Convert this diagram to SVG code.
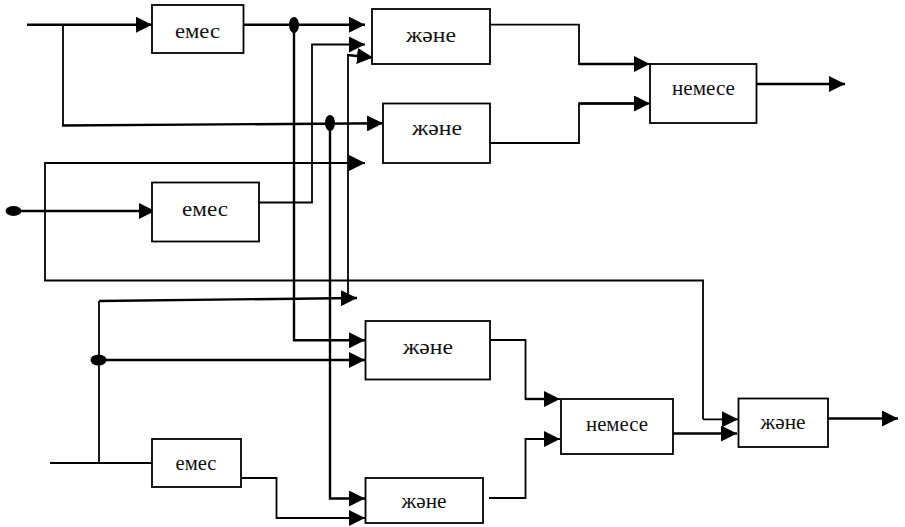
<svg xmlns="http://www.w3.org/2000/svg" width="905" height="527" viewBox="0 0 905 527">
<style>
.b{fill:#fff;stroke:#000;stroke-width:1.8}
.t{font-family:"Liberation Serif","Times New Roman",serif;font-size:22px;fill:#111;text-anchor:middle}
.s{font-size:20px}
.c{fill:none;stroke:#000;stroke-width:1.8;stroke-linejoin:miter}
.k{stroke-width:2.4}
.a{marker-end:url(#h)}
.d{fill:#000}
</style>
<defs><marker id="h" markerUnits="userSpaceOnUse" markerWidth="16" markerHeight="16" refX="16" refY="8" orient="auto"><path d="M0 0L16 8L0 16Z" fill="#000"/></marker></defs>
<rect width="905" height="527" fill="#fff"/>
<g id="connectors">
<path class="c k a" d="M27 24.700H152"/>
<path class="c k a" d="M241 24.700H365"/>
<path class="c k a" d="M294 25V340.300H365"/>
<path class="c" d="M63 25V125.500"/>
<path class="c k a" d="M62 125.500L383 123.300"/>
<path class="c k a" d="M330 123V498.500H365"/>
<path class="c a" d="M703 419.300H738"/>
<path class="c a" d="M703 419.300V280.500H45V163H365"/>
<path class="c k a" d="M13 211H155"/>
<path class="c a" d="M259 202.500H312V44.500H365"/>
<path class="c" d="M348 298V55"/>
<path class="c k a" d="M347 55L373 57.500"/>
<path class="c" d="M99 463V301"/>
<path class="c k a" d="M99 301L357 298"/>
<path class="c k a" d="M98.500 360H365"/>
<path class="c" d="M50 463H157"/>
<path class="c a" d="M241 478H276.500V518H365"/>
<path class="c a" d="M490 24.700H579V64H650"/>
<path class="c k" d="M579 64H640"/>
<path class="c a" d="M490 143H579V103.500H650"/>
<path class="c k" d="M579 103.500H640"/>
<path class="c k a" d="M756 84H845"/>
<path class="c a" d="M490 340H525.500V399H560"/>
<path class="c k" d="M525.500 399H550"/>
<path class="c a" d="M489 498H525.500V439H560"/>
<path class="c k a" d="M670 433.500H737"/>
<path class="c k a" d="M828 418.500H898"/>
<ellipse class="d" cx="294" cy="25" rx="5" ry="8"/>
<ellipse class="d" cx="330" cy="123" rx="5" ry="8"/>
<ellipse class="d" cx="13.500" cy="211" rx="8" ry="5"/>
<ellipse class="d" cx="98.500" cy="360" rx="8" ry="5.500"/>
</g>
<g id="not1"><rect class="b" x="152" y="5" width="91.500" height="48"/><text class="t" x="197.500" y="38" textLength="45" lengthAdjust="spacingAndGlyphs">емес</text></g>
<g id="and1"><rect class="b" x="372" y="9" width="118" height="55"/><text class="t" x="431" y="42" textLength="50" lengthAdjust="spacingAndGlyphs">және</text></g>
<g id="and2"><rect class="b" x="383" y="103.500" width="107" height="59.500"/><text class="t" x="437" y="135" textLength="50" lengthAdjust="spacingAndGlyphs">және</text></g>
<g id="or1"><rect class="b" x="650" y="64" width="106.500" height="59"/><text class="t" x="703.500" y="95" textLength="63" lengthAdjust="spacingAndGlyphs">немесе</text></g>
<g id="not2"><rect class="b" x="152" y="182.500" width="107" height="59"/><text class="t" x="205" y="216" textLength="46" lengthAdjust="spacingAndGlyphs">емес</text></g>
<g id="and3"><rect class="b" x="365.500" y="321" width="124.500" height="58.500"/><text class="t" x="428" y="354" textLength="50" lengthAdjust="spacingAndGlyphs">және</text></g>
<g id="and4"><rect class="b" x="365.500" y="478" width="117.500" height="45"/><text class="t s" x="424" y="508" textLength="45" lengthAdjust="spacingAndGlyphs">және</text></g>
<g id="or2"><rect class="b" x="561" y="399" width="112" height="55"/><text class="t" x="617" y="431" textLength="62" lengthAdjust="spacingAndGlyphs">немесе</text></g>
<g id="and5"><rect class="b" x="738.500" y="398.500" width="89.500" height="48.500"/><text class="t s" x="783" y="429" textLength="45" lengthAdjust="spacingAndGlyphs">және</text></g>
<g id="not3"><rect class="b" x="152" y="439" width="89" height="48"/><text class="t s" x="196" y="470" textLength="41" lengthAdjust="spacingAndGlyphs">емес</text></g>
</svg>
